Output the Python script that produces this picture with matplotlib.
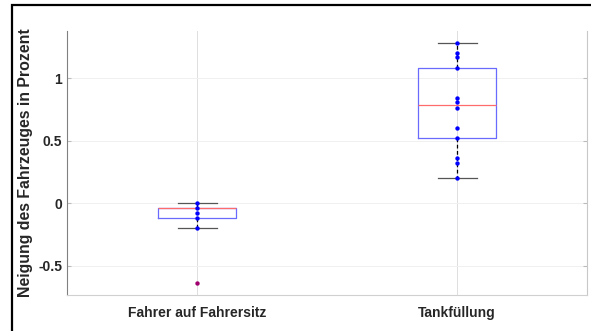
import matplotlib.pyplot as plt
from matplotlib.patches import Rectangle

plt.rcParams['font.family'] = ['Liberation Sans', 'DejaVu Sans']
plt.rcParams['font.weight'] = 'bold'

labels = ['Fahrer auf Fahrersitz', 'Tankfüllung']
fahrer = [0.0, -0.04, -0.075, -0.117, -0.197]
tank = [1.285, 1.205, 1.17, 1.08, 0.84, 0.81, 0.76, 0.60, 0.52, 0.36, 0.32, 0.20]
ausreisser = [[-0.64], []]
# box stats: whislo, q1, med, q3, whishi
stats_fahrer = [-0.197, -0.117, -0.04, -0.04, 0.0]
stats_tank = [0.20, 0.52, 0.785, 1.08, 1.285]
yticks = [-0.5, 0, 0.5, 1]

fig = plt.figure(figsize=(5.91, 3.31), dpi=100)
ax = fig.add_axes([67/591, 36/331, 520/591, 264/331])

stats = []
for s, fl, lab in zip([stats_fahrer, stats_tank], ausreisser, labels):
    stats.append({'whislo': s[0], 'q1': s[1], 'med': s[2], 'q3': s[3],
                  'whishi': s[4], 'fliers': fl, 'label': lab})

ax.bxp(stats, positions=[1, 2], widths=0.3, showfliers=False,
       boxprops=dict(color='#6a6aff', lw=0.9),
       medianprops=dict(color='#ff6a6a', lw=0.9),
       whiskerprops=dict(color='black', lw=0.9, linestyle=(0, (3, 2))),
       capprops=dict(color='#555555', lw=0.9))

ax.scatter([1] * len(fahrer), fahrer, s=10, color='#0000ff', zorder=4, lw=0)
ax.scatter([2] * len(tank), tank, s=10, color='#0000ff', zorder=4, lw=0)
for i, fl in enumerate(ausreisser):
    ax.scatter([i + 1] * len(fl), fl, s=10, color='#a0006e', zorder=4, lw=0)

ax.set_xlim(0.5, 2.5)
ax.set_ylim(-0.734, 1.378)
ax.set_yticks(yticks)
ax.set_yticklabels(['-0.5', '0', '0.5', '1'])
ax.set_ylabel('Neigung des Fahrzeuges in Prozent', fontsize=11.4, fontweight='bold',
              color='#262626')
ax.yaxis.set_label_coords(-0.066, 0.5)
ax.tick_params(axis='both', labelsize=10, colors='#262626', direction='in', length=3)
ax.tick_params(axis='y', right=True, color='#bbbbbb')
ax.tick_params(axis='x', length=0, pad=8)
ax.yaxis.grid(True, color='#f0f0f0', lw=0.7)
ax.xaxis.grid(True, color='#dedede', lw=0.7)
ax.set_axisbelow(True)

ax.spines['top'].set_visible(False)
ax.spines['left'].set_color('#808080')
ax.spines['right'].set_color('#c8c8c8')
ax.spines['bottom'].set_color('#d0d0d0')

fig.patches.append(Rectangle((12/591, -0.2), 1.2, 1.2 - 5/331, transform=fig.transFigure,
                             fill=False, ec='black', lw=1.6))

fig.savefig('out.png', dpi=100)
